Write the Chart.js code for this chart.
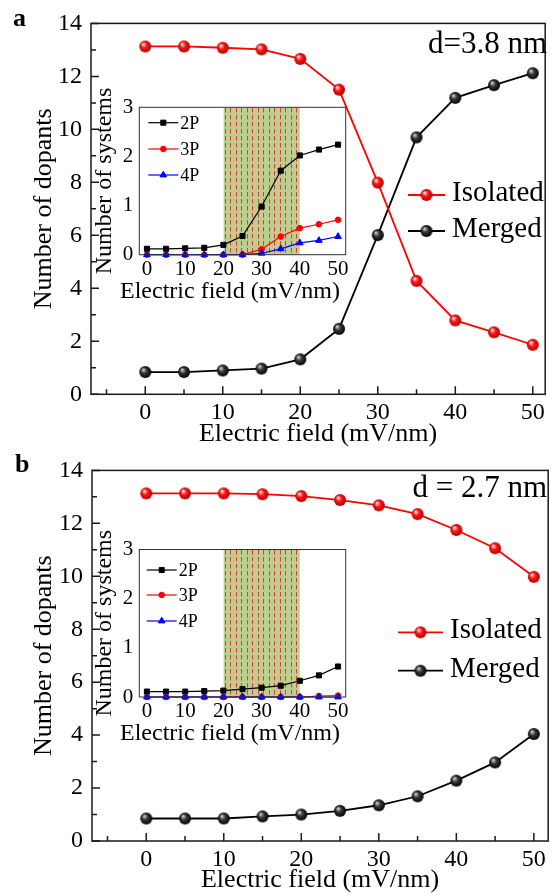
<!DOCTYPE html>
<html>
<head>
<meta charset="utf-8">
<script src="https://cdn.jsdelivr.net/npm/chart.js@4.4.0/dist/chart.umd.min.js"></script>
<style>
  html, body { margin: 0; padding: 0; background: #fff; overflow: hidden; }
  body { width: 553px; height: 896px; position: relative; }
  canvas { position: absolute; }
</style>
</head>
<body>
<canvas id="mainA" width="553" height="450" style="left:0;top:0"></canvas>
<canvas id="mainB" width="556" height="449" style="left:0;top:447px"></canvas>
<canvas id="insetA" width="280" height="225" style="left:80px;top:80px"></canvas>
<canvas id="insetB" width="280" height="225" style="left:80px;top:522px"></canvas>
<script>
// ========== Data ==========
const field = [0, 5, 10, 15, 20, 25, 30, 35, 40, 45, 50];

// main panels: number of dopants
const isolatedA = [13.13, 13.13, 13.08, 13.02, 12.66, 11.5, 7.99, 4.28, 2.79, 2.34, 1.87];
const mergedA   = [0.84, 0.84, 0.9, 0.97, 1.32, 2.47, 6.01, 9.7, 11.19, 11.67, 12.12];
const isolatedB = [13.13, 13.13, 13.13, 13.1, 13.03, 12.88, 12.68, 12.35, 11.75, 11.06, 9.98];
const mergedB   = [0.85, 0.85, 0.85, 0.93, 1.0, 1.14, 1.35, 1.69, 2.28, 2.97, 4.04];

// insets: number of systems
const twoPA   = [0.12, 0.12, 0.13, 0.14, 0.2, 0.38, 0.98, 1.71, 2.02, 2.14, 2.24];
const threePA = [0, 0, 0, 0, 0, 0, 0.11, 0.37, 0.54, 0.62, 0.71];
const fourPA  = [0, 0, 0, 0, 0, 0, 0.03, 0.12, 0.24, 0.29, 0.37];
const twoPB   = [0.11, 0.11, 0.11, 0.12, 0.13, 0.16, 0.19, 0.23, 0.33, 0.44, 0.62];
const threePB = [0, 0, 0, 0, 0, 0, 0, 0, 0, 0.02, 0.03];
const fourPB  = [0, 0, 0, 0, 0, 0, 0, 0, 0, 0, 0];

const mainYTicks = [0, 2, 4, 6, 8, 10, 12, 14];
const mainYMinor = [1, 3, 5, 7, 9, 11, 13];
const mainXTicks = [0, 10, 20, 30, 40, 50];
const mainXMinor = [-5, 5, 15, 25, 35, 45];
const insetYTicks = [0, 1, 2, 3];
const insetXTicks = [0, 10, 20, 30, 40, 50];
const switchWindow = [20, 40]; // shaded field range in the insets

// ========== Styles ==========
const SERIF = '"Liberation Serif", "Times New Roman", serif';
Chart.defaults.font.family = SERIF;
Chart.defaults.color = '#000';

const pts = (vals) => field.map((f, i) => ({ x: f, y: vals[i] }));

function makeBall(r, light, base, dark) {
  const c = document.createElement('canvas');
  c.width = c.height = 2 * r + 2;
  const g = c.getContext('2d');
  const m = r + 1;
  const grad = g.createRadialGradient(m - r * 0.35, m - r * 0.4, r * 0.1, m, m, r);
  grad.addColorStop(0, light);
  grad.addColorStop(0.4, base);
  grad.addColorStop(1, dark);
  g.fillStyle = grad;
  g.beginPath();
  g.arc(m, m, r, 0, Math.PI * 2);
  g.fill();
  return c;
}
const redBall = makeBall(6, '#ffe0e0', '#ff1a1a', '#b00000');
const blackBall = makeBall(6, '#c8c8c8', '#3a3a3a', '#000000');

function makeHatch() {
  const c = document.createElement('canvas');
  c.width = 11; c.height = 7;
  const g = c.getContext('2d');
  g.fillStyle = '#bfcd8f';
  g.fillRect(0, 0, 11, 7);
  g.strokeStyle = 'rgba(210,40,40,0.85)';
  g.lineWidth = 1;
  g.beginPath();
  g.moveTo(2.5, 0); g.lineTo(2.5, 4.5);
  g.moveTo(7.5, 0); g.lineTo(7.5, 4.5);
  g.stroke();
  return g.createPattern(c, 'repeat');
}

// ========== Plugins ==========
// box round the plot and inward tick marks
const frame = {
  id: 'frame',
  beforeDraw(chart, args, o) {
    if (!o.fill) return;
    const a = chart.chartArea;
    chart.ctx.save();
    chart.ctx.fillStyle = o.fill;
    chart.ctx.fillRect(a.left, a.top, a.right - a.left, a.bottom - a.top);
    chart.ctx.restore();
  },
  afterDraw(chart, args, o) {
    const { ctx, chartArea: a, scales: { x, y } } = chart;
    ctx.save();
    ctx.strokeStyle = o.color;
    ctx.lineWidth = o.width;
    ctx.strokeRect(a.left, a.top, a.right - a.left, a.bottom - a.top);
    ctx.beginPath();
    const tickY = (v, len) => { const p = y.getPixelForValue(v); ctx.moveTo(a.left, p); ctx.lineTo(a.left + len, p); };
    const tickX = (v, len) => { const p = x.getPixelForValue(v); ctx.moveTo(p, a.bottom); ctx.lineTo(p, a.bottom - len); };
    if (o.major) {
      y.ticks.forEach(t => tickY(t.value, o.major));
      x.ticks.forEach(t => tickX(t.value, o.major));
    }
    (o.minorY || []).forEach(v => tickY(v, o.minor));
    (o.minorX || []).forEach(v => tickX(v, o.minor));
    ctx.stroke();
    ctx.restore();
  }
};

// line + marker legend samples
const sampleLegend = {
  id: 'sampleLegend',
  afterDraw(chart, args, o) {
    const { ctx, chartArea: a } = chart;
    const x0 = (o.relative ? a.left : 0) + o.x;
    const y0 = o.relative ? a.top : 0;
    ctx.save();
    ctx.font = o.font;
    chart.data.datasets.filter(d => d.label).forEach((d, i) => {
      const y = y0 + o.ys[i];
      ctx.strokeStyle = d.borderColor;
      ctx.lineWidth = d.borderWidth;
      ctx.beginPath();
      ctx.moveTo(x0, y);
      ctx.lineTo(x0 + o.len, y);
      ctx.stroke();
      ctx.fillStyle = d.pointBackgroundColor || d.borderColor;
      ctx.strokeStyle = d.borderColor;
      ctx.lineWidth = 1;
      Chart.helpers.drawPoint(ctx, { pointStyle: d.pointStyle, radius: d.pointRadius, borderWidth: 1, rotation: 0 }, x0 + o.len / 2, y);
      ctx.fillStyle = '#000';
      ctx.textBaseline = 'alphabetic';
      ctx.fillText(d.label, x0 + o.len + o.gap, y + o.shift);
    });
    ctx.restore();
  }
};

// free text on the panel
const notes = {
  id: 'notes',
  afterDraw(chart, args, o) {
    const ctx = chart.ctx;
    ctx.save();
    (o.items || []).forEach(n => {
      ctx.font = n.font;
      ctx.textAlign = n.align || 'left';
      ctx.textBaseline = n.baseline || 'alphabetic';
      ctx.fillStyle = '#000';
      ctx.fillText(n.text, n.x, n.y);
    });
    ctx.restore();
  }
};

// ========== Charts ==========
function mainChart(id, p) {
  return new Chart(document.getElementById(id), {
    type: 'line',
    data: {
      datasets: [
        { label: 'Isolated', data: pts(p.isolated), borderColor: '#ff0000', borderWidth: 1.8,
          pointStyle: redBall, pointRadius: 6, tension: 0, clip: false },
        { label: 'Merged', data: pts(p.merged), borderColor: '#000000', borderWidth: 1.8,
          pointStyle: blackBall, pointRadius: 6, tension: 0, clip: false }
      ]
    },
    options: {
      responsive: false,
      animation: false,
      devicePixelRatio: 1,
      events: [],
      layout: { padding: { top: 22, right: p.padRight, left: 0, bottom: 0 } },
      scales: {
        x: {
          type: 'linear', min: -7, max: p.xMax,
          afterBuildTicks: s => { s.ticks = mainXTicks.map(v => ({ value: v })); },
          afterFit: s => { s.height = p.xHeight; },
          grid: { display: false, drawTicks: false },
          border: { display: false },
          ticks: { font: { size: 24 }, padding: 4, maxRotation: 0, autoSkip: false },
          title: { display: true, text: 'Electric field (mV/nm)', font: { size: 26 }, padding: 0 }
        },
        y: {
          type: 'linear', min: 0, max: 14,
          afterBuildTicks: s => { s.ticks = mainYTicks.map(v => ({ value: v })); },
          afterFit: s => { s.width = p.yWidth; },
          grid: { display: false, drawTicks: false },
          border: { display: false },
          ticks: { font: { size: 24 }, padding: 9 },
          title: { display: true, text: 'Number of dopants', font: { size: 26 }, padding: { top: 29, bottom: 0 } }
        }
      },
      plugins: {
        legend: { display: false },
        tooltip: { enabled: false },
        frame: { color: '#1a1a1a', width: 1.5, major: 8, minor: 5, minorX: mainXMinor, minorY: mainYMinor },
        sampleLegend: p.legend,
        notes: { items: p.notes }
      }
    },
    plugins: [frame, sampleLegend, notes]
  });
}

function insetChart(id, p) {
  return new Chart(document.getElementById(id), {
    type: 'line',
    data: {
      datasets: [
        { label: '2P', data: pts(p.two), borderColor: '#000000', backgroundColor: '#000000', borderWidth: 1.2,
          pointStyle: 'rect', pointRadius: 3.6, pointBorderWidth: 1, tension: 0, clip: false, order: 3 },
        { label: '3P', data: pts(p.three), borderColor: '#ff0000', backgroundColor: '#ff0000', borderWidth: 1.2,
          pointStyle: 'circle', pointRadius: 2.8, pointBorderWidth: 1, tension: 0, clip: false, order: 2 },
        { label: '4P', data: pts(p.four), borderColor: '#0000ff', backgroundColor: '#0000ff', borderWidth: 1.2,
          pointStyle: 'triangle', pointRadius: 3.8, pointBorderWidth: 1, tension: 0, clip: false, order: 1 },
        { data: switchWindow.map(v => ({ x: v, y: insetYTicks[insetYTicks.length - 1] })),
          fill: 'start', backgroundColor: makeHatch(), borderColor: 'transparent', borderWidth: 0,
          pointRadius: 0, order: 10 }
      ]
    },
    options: {
      responsive: false,
      animation: false,
      devicePixelRatio: 1,
      events: [],
      layout: { padding: { top: p.top, right: 14.3, left: 0, bottom: 0 } },
      scales: {
        x: {
          type: 'linear', min: -2, max: 52,
          afterBuildTicks: s => { s.ticks = insetXTicks.map(v => ({ value: v })); },
          afterFit: s => { s.height = p.xHeight; },
          grid: { display: false, drawTicks: false },
          border: { display: false },
          ticks: { font: { size: 21 }, padding: 2, maxRotation: 0, autoSkip: false },
          // title is wider than the plot: drawn by the notes plugin so it is not squeezed
          title: { display: false }
        },
        y: {
          type: 'linear', min: 0, max: 3,
          afterBuildTicks: s => { s.ticks = insetYTicks.map(v => ({ value: v })); },
          afterFit: s => { s.width = 59.3; },
          grid: { display: false, drawTicks: false },
          border: { display: false },
          ticks: { font: { size: 21 }, padding: 6 },
          title: { display: true, text: 'Number of systems', font: { size: 24 }, padding: { top: 10.6, bottom: 0 } }
        }
      },
      plugins: {
        legend: { display: false },
        tooltip: { enabled: false },
        frame: { color: '#333333', width: 1, fill: '#ffffff' },
        sampleLegend: Object.assign({ relative: true, font: '18px ' + SERIF, gap: 2, shift: 6 }, p.legend),
        notes: { items: [
          { text: 'Electric field (mV/nm)', x: 150, y: 212, font: '24px ' + SERIF, align: 'center', baseline: 'middle' }
        ] }
      }
    },
    plugins: [frame, sampleLegend, notes]
  });
}

mainChart('mainA', {
  isolated: isolatedA, merged: mergedA,
  xMax: 51.6, padRight: 2.5, xHeight: 450 - 394.3, yWidth: 91,
  legend: { x: 408, len: 37, gap: 7, ys: [195, 231], shift: 6, font: '29px ' + SERIF },
  notes: [
    { text: 'a', x: 13, y: 26, font: 'bold 26px ' + SERIF },
    { text: 'd=3.8 nm', x: 547, y: 53, font: '31px ' + SERIF, align: 'right' }
  ]
});

mainChart('mainB', {
  isolated: isolatedB, merged: mergedB,
  xMax: 51.85, padRight: 2, xHeight: 449 - 394, yWidth: 92,
  legend: { x: 398, len: 45, gap: 7, ys: [185.3, 223.7], shift: 6, font: '29px ' + SERIF },
  notes: [
    { text: 'b', x: 15, y: 25, font: 'bold 26px ' + SERIF },
    { text: 'd = 2.7 nm', x: 547, y: 50, font: '31px ' + SERIF, align: 'right' }
  ]
});

insetChart('insetA', {
  two: twoPA, three: threePA, four: fourPA,
  top: 27.3, xHeight: 225 - 27.3 - 147.4,
  legend: { x: 9, len: 30, ys: [15.4, 41.7, 67.7] }
});

insetChart('insetB', {
  two: twoPB, three: threePB, four: fourPB,
  top: 27.5, xHeight: 225 - 27.5 - 147.5,
  legend: { x: 7.4, len: 30, ys: [20.5, 45.5, 71.5] }
});
</script>
</body>
</html>
